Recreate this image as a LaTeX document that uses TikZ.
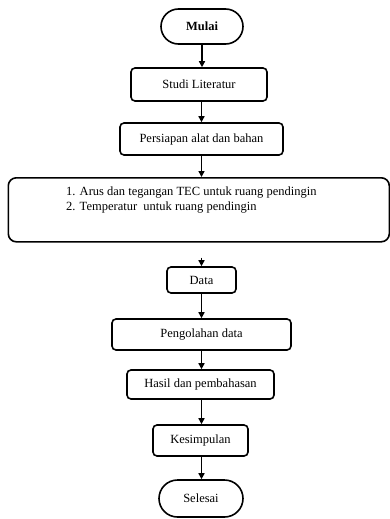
\documentclass[tikz,border=0pt]{standalone}
\usepackage{fontspec}
\setmainfont{Liberation Serif}
\usetikzlibrary{arrows.meta,shapes.misc}
\begin{document}
\begin{tikzpicture}[x=1pt,y=-1pt,
  box/.style={draw, line width=1.6pt, rounded corners=4pt, inner sep=0pt, font=\fontsize{12.5}{15}\selectfont},
  term/.style={draw, line width=1.6pt, rounded rectangle, inner sep=0pt, font=\fontsize{12.5}{15}\selectfont},
  arr/.style={line width=1.5pt, -{Triangle[length=6pt,width=6pt]}}]
\useasboundingbox (0,0) rectangle (390,519);
\node[term, minimum width=82pt, minimum height=35pt] (mulai) at (202,26.5) {\textbf{Mulai}};
\node[box, minimum width=136pt, minimum height=33pt] (studi) at (199,84.5) {Studi Literatur};
\node[box, minimum width=163pt, minimum height=32pt] (persiapan) at (201.5,139) {Persiapan alat dan bahan};
\node[box, rounded corners=8pt, minimum width=381pt, minimum height=64pt, anchor=north west] (tec) at (7.5,177) {};
\node[anchor=north west, align=left, inner sep=0pt, font=\fontsize{12.5}{15}\selectfont] (tectext) at (66,187) {1. Arus dan tegangan TEC untuk ruang pendingin\\2. Temperatur\ \ untuk ruang pendingin};
\node[box, minimum width=69pt, minimum height=26pt] (data) at (201.5,280) {Data};
\node[box, minimum width=179pt, minimum height=31pt] (olah) at (201.5,334.5) {Pengolahan data};
\node[box, minimum width=147pt, minimum height=29pt] (hasil) at (200.5,384.5) {Hasil dan pembahasan};
\node[box, minimum width=95pt, minimum height=31pt] (kes) at (200.5,440.5) {Kesimpulan};
\node[term, minimum width=84pt, minimum height=37pt] (selesai) at (201,498.5) {Selesai};
\draw[arr] (mulai.south) -- (mulai.south |- studi.north);
\draw[arr] (studi.south -| persiapan.north) -- (persiapan.north);
\draw[arr] (persiapan.south) -- (persiapan.south |- tec.north);
\draw[arr, shorten <=15pt] (tec.south -| data.north) -- (data.north);
\draw[arr] (data.south) -- (olah.north);
\draw[arr] (olah.south) -- (olah.south |- hasil.north);
\draw[arr] (hasil.south -| olah.south) -- (olah.south |- kes.north);
\draw[arr] (kes.south -| olah.south) -- (olah.south |- selesai.north);
\end{tikzpicture}
\end{document}
